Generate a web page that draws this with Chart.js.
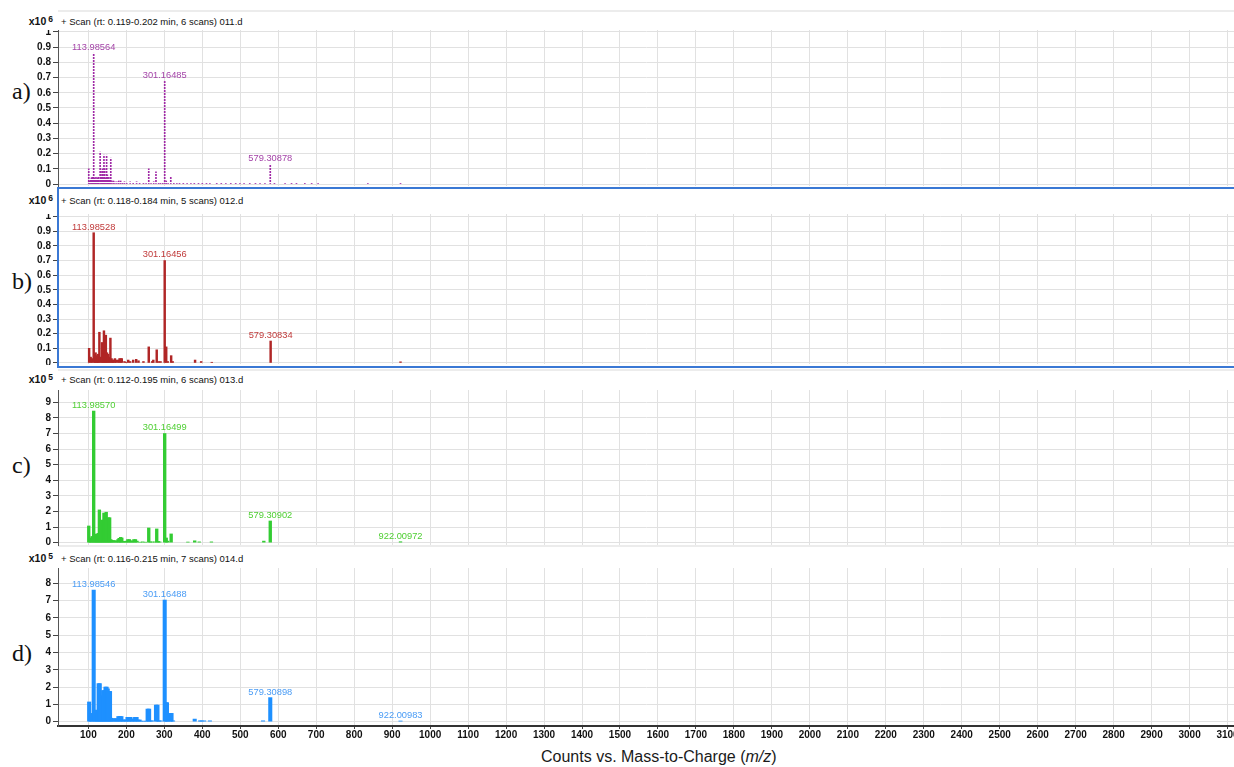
<!DOCTYPE html>
<html>
<head>
<meta charset="utf-8">
<script src="https://cdn.jsdelivr.net/npm/chart.js@4.4.1/dist/chart.umd.min.js"></script>
<style>
  body { margin: 0; width: 1234px; height: 767px; background: #fff; overflow: hidden; position: relative; font-family: "Liberation Sans", Arial, sans-serif; }
  canvas { position: absolute; left: 0; }
  .sep { position: absolute; left: 58px; right: 0; height: 2px; background: #ececec; }
  .hdr { position: absolute; height: 14px; line-height: 14px; font-size: 9.5px; color: #111; white-space: nowrap; }
  .mult { position: absolute; width: 53px; left: 0; text-align: right; height: 14px; line-height: 14px; font-size: 10.5px; font-weight: bold; color: #111; }
  .mult sup { font-size: 8.5px; vertical-align: 3px; line-height: 0; margin-left: 2px; }
  .tag { position: absolute; left: 12px; font-family: "Liberation Serif", "Times New Roman", serif; font-size: 24px; line-height: 24px; color: #111; }
  #selbox { position: absolute; left: 57px; top: 187px; width: 1180px; height: 177px; border: 2px solid #3a78d4; pointer-events: none; }
  #xtitle { position: absolute; left: 541px; top: 747px; font-size: 16px; line-height: 20px; color: #1a1a1a; }
</style>
</head>
<body>

<div class="sep" style="top:10px"></div>
<div class="sep" style="top:369px"></div>
<div class="sep" style="top:545px"></div>

<div class="mult" style="top:14px">x10<sup>6</sup></div>
<div class="hdr" style="left:61px;top:15px">+ Scan (rt: 0.119-0.202 min, 6 scans) 011.d</div>
<div class="mult" style="top:193px">x10<sup>6</sup></div>
<div class="hdr" style="left:61px;top:194px">+ Scan (rt: 0.118-0.184 min, 5 scans) 012.d</div>
<div class="mult" style="top:372px">x10<sup>5</sup></div>
<div class="hdr" style="left:61px;top:373px">+ Scan (rt: 0.112-0.195 min, 6 scans) 013.d</div>
<div class="mult" style="top:551px">x10<sup>5</sup></div>
<div class="hdr" style="left:61px;top:552px">+ Scan (rt: 0.116-0.215 min, 7 scans) 014.d</div>

<div class="tag" style="top:79px">a)</div>
<div class="tag" style="top:269px">b)</div>
<div class="tag" style="top:453px">c)</div>
<div class="tag" style="top:641px">d)</div>

<canvas id="chartA" width="1234" height="157" style="top:30px"></canvas>
<canvas id="chartB" width="1234" height="151" style="top:214px"></canvas>
<canvas id="chartC" width="1234" height="156" style="top:390px"></canvas>
<canvas id="chartD" width="1234" height="177" style="top:568px"></canvas>

<div id="selbox"></div>
<div id="xtitle">Counts vs. Mass-to-Charge (<i>m/z</i>)</div>

<script>
// x axis (m/z)
const mzMin = 20;
const mzMax = 3117;
const mzTicks = [100, 200, 300, 400, 500, 600, 700, 800, 900, 1000, 1100, 1200, 1300, 1400, 1500, 1600, 1700, 1800, 1900, 2000, 2100, 2200, 2300, 2400, 2500, 2600, 2700, 2800, 2900, 3000, 3100];
const ticks6 = [0, 0.1, 0.2, 0.3, 0.4, 0.5, 0.6, 0.7, 0.8, 0.9, 1];
const ticksC = [0, 1, 2, 3, 4, 5, 6, 7, 8, 9];
const ticksD = [0, 1, 2, 3, 4, 5, 6, 7, 8];

// a) 011.d, counts x10^6
const mzA = [101, 103, 106, 108, 110, 112, 114, 116, 118, 120, 122, 124, 126, 128, 131, 133, 135, 137, 139, 141, 143, 145, 148, 150, 152, 154, 156, 159, 162, 166, 170, 175, 180, 185, 190, 195, 201, 210, 218, 227, 235, 245, 252, 259, 265, 272, 278, 285, 290, 296, 301, 305, 310, 317, 325, 333, 340, 350, 360, 370, 379, 390, 400, 411, 420, 438, 450, 462, 475, 488, 499, 510, 525, 540, 552, 565, 579, 590, 618, 635, 648, 670, 688, 705, 836, 922];
const intA = [0.10, 0.02, 0.03, 0.04, 0.05, 0.03, 0.86, 0.04, 0.03, 0.05, 0.03, 0.04, 0.05, 0.03, 0.21, 0.09, 0.05, 0.10, 0.04, 0.19, 0.10, 0.04, 0.19, 0.06, 0.03, 0.05, 0.03, 0.17, 0.02, 0.02, 0.015, 0.015, 0.02, 0.02, 0.01, 0.015, 0.01, 0.015, 0.01, 0.015, 0.01, 0.01, 0.01, 0.10, 0.01, 0.015, 0.08, 0.01, 0.01, 0.01, 0.675, 0.02, 0.01, 0.05, 0.005, 0.005, 0.005, 0.005, 0.005, 0.005, 0.01, 0.005, 0.005, 0.005, 0.005, 0.005, 0.005, 0.005, 0.005, 0.005, 0.005, 0.005, 0.005, 0.005, 0.005, 0.005, 0.13, 0.005, 0.01, 0.005, 0.01, 0.005, 0.01, 0.005, 0.005, 0.008];
const peaksA = [[114, '113.98564'], [301, '301.16485'], [579, '579.30878']];

// b) 012.d, counts x10^6
const mzB = [102, 106, 109, 114, 117, 119, 122, 124, 126, 129, 132, 136, 138, 141, 144, 146, 149, 152, 155, 158, 161, 164, 166, 170, 173, 178, 182, 185, 188, 195, 199, 205, 210, 218, 226, 232, 245, 259, 268, 271, 280, 285, 290, 301, 305, 309, 318, 322, 381, 397, 425, 580, 922];
const intB = [0.10, 0.04, 0.03, 0.89, 0.06, 0.07, 0.05, 0.03, 0.06, 0.21, 0.04, 0.14, 0.06, 0.22, 0.08, 0.19, 0.07, 0.06, 0.04, 0.17, 0.03, 0.02, 0.02, 0.03, 0.02, 0.02, 0.03, 0.03, 0.03, 0.01, 0.005, 0.02, 0.01, 0.02, 0.025, 0.015, 0.01, 0.11, 0.01, 0.02, 0.09, 0.01, 0.01, 0.70, 0.11, 0.01, 0.05, 0.01, 0.02, 0.01, 0.005, 0.15, 0.008];
const peaksB = [[114, '113.98528'], [301, '301.16456'], [580, '579.30834']];

// c) 013.d, counts x10^5
const mzC = [101, 104, 107, 110, 114, 117, 120, 123, 126, 129, 132, 135, 138, 141, 144, 147, 150, 153, 156, 159, 162, 166, 170, 174, 178, 181, 185, 188, 192, 196, 200, 204, 208, 212, 216, 220, 224, 228, 236, 243, 250, 259, 263, 268, 275, 280, 284, 288, 301, 305, 309, 318, 362, 380, 392, 424, 562, 579, 922];
const intC = [1.07, 0.3, 0.17, 0.4, 8.44, 0.5, 0.55, 0.5, 0.6, 2.1, 1.3, 1.45, 1.2, 1.9, 1.5, 1.95, 1.4, 1.6, 1.6, 0.2, 0.15, 0.13, 0.13, 0.1, 0.2, 0.28, 0.34, 0.3, 0.08, 0.08, 0.1, 0.2, 0.2, 0.12, 0.1, 0.2, 0.2, 0.1, 0.03, 0.05, 0.03, 0.94, 0.05, 0.05, 0.05, 0.88, 0.08, 0.05, 7.0, 0.3, 0.1, 0.56, 0.04, 0.12, 0.05, 0.05, 0.1, 1.39, 0.06];
const peaksC = [[114, '113.98570'], [301, '301.16499'], [579, '579.30902'], [922, '922.00972']];

// d) 014.d, counts x10^5
const mzD = [102, 105, 109, 114, 117, 121, 124, 127, 130, 133, 136, 139, 142, 145, 148, 151, 154, 157, 160, 164, 168, 172, 176, 179, 183, 187, 191, 195, 199, 203, 207, 211, 215, 219, 223, 227, 231, 235, 240, 246, 252, 256, 260, 264, 268, 278, 282, 286, 290, 301, 304, 307, 310, 316, 319, 323, 380, 394, 398, 405, 420, 560, 579, 922];
const intD = [1.14, 0.3, 0.48, 7.6, 0.6, 0.67, 0.5, 2.2, 2.2, 1.5, 1.4, 1.8, 1.8, 2.0, 2.0, 1.9, 1.75, 1.75, 0.2, 0.17, 0.17, 0.17, 0.17, 0.3, 0.3, 0.3, 0.1, 0.1, 0.1, 0.25, 0.25, 0.25, 0.15, 0.15, 0.25, 0.25, 0.1, 0.1, 0.03, 0.03, 0.03, 0.73, 0.73, 0.05, 0.05, 0.96, 0.96, 0.05, 0.05, 7.03, 1.1, 1.1, 0.1, 0.48, 0.48, 0.05, 0.15, 0.05, 0.05, 0.05, 0.05, 0.05, 1.39, 0.04];
const peaksD = [[114, '113.98546'], [301, '301.16488'], [579, '579.30898'], [922, '922.00983']];

const FONT = '"Liberation Sans", Arial, sans-serif';

// draws the m/z annotation just above each labelled peak
const peakLabels = {
    id: 'peakLabels',
    afterDatasetsDraw(chart, args, opts) {
        if (!opts.items) return;
        const { ctx, scales: { x, y } } = chart;
        const pts = chart.data.datasets[0].data;
        ctx.save();
        ctx.font = '9.3px ' + FONT;
        ctx.fillStyle = opts.color;
        ctx.textAlign = 'center';
        ctx.textBaseline = 'bottom';
        opts.items.forEach(([mz, text]) => {
            const p = pts.find(d => d.x === mz);
            ctx.fillText(text, x.getPixelForValue(mz), y.getPixelForValue(p.y) - 1);
        });
        ctx.restore();
    }
};

function dotPattern(color) {
    const c = document.createElement('canvas');
    c.width = 1;
    c.height = 3;
    const g = c.getContext('2d');
    g.fillStyle = color;
    g.fillRect(0, 0, 1, 2);
    return g.createPattern(c, 'repeat');
}

function makeChart(id, mz, inten, cfg) {
    const points = mz.map((m, i) => ({ x: m, y: inten[i] }));
    return new Chart(document.getElementById(id), {
        type: 'bar',
        data: {
            datasets: [{
                data: points,
                backgroundColor: cfg.fill,
                barThickness: cfg.thick,
                grouped: false,
                borderWidth: 0
            }]
        },
        options: {
            responsive: false,
            animation: false,
            plugins: {
                legend: { display: false },
                tooltip: { enabled: false },
                peakLabels: { items: cfg.peaks, color: cfg.labelColor }
            },
            scales: {
                x: {
                    type: 'linear',
                    min: mzMin,
                    max: mzMax,
                    offset: false,
                    afterBuildTicks: s => { s.ticks = mzTicks.map(v => ({ value: v })); },
                    afterFit: s => { s.height = cfg.xHeight; s.paddingLeft = 0; s.paddingRight = 0; },
                    ticks: {
                        display: cfg.xLabels,
                        autoSkip: false,
                        maxRotation: 0,
                        padding: 0,
                        color: '#111',
                        font: { family: FONT, size: 10, weight: 'bold' },
                        callback: v => String(v)
                    },
                    grid: { offset: false, color: '#e1e1e1', tickColor: '#444', tickLength: 3, drawTicks: cfg.xLabels },
                    border: { display: cfg.xLabels, color: '#333', width: 2 }
                },
                y: {
                    min: cfg.yMin,
                    max: cfg.yMax,
                    afterBuildTicks: s => { s.ticks = cfg.yTicks.map(v => ({ value: v })); },
                    afterFit: s => { s.width = 58; s.paddingTop = 0; s.paddingBottom = 0; },
                    ticks: {
                        autoSkip: false,
                        padding: 2,
                        color: '#111',
                        font: { family: FONT, size: 10, weight: 'bold' },
                        callback: v => String(v)
                    },
                    grid: { color: '#e1e1e1', tickColor: '#444', tickLength: 5 },
                    border: { color: '#555' }
                }
            }
        },
        plugins: [peakLabels]
    });
}

makeChart('chartA', mzA, intA, {
    fill: dotPattern('#a02aa6'), thick: 1, peaks: peaksA, labelColor: '#a444a8',
    yMin: -0.013, yMax: 1.013, yTicks: ticks6, xLabels: false, xHeight: 1
});
makeChart('chartB', mzB, intB, {
    fill: '#b02626', thick: 1.8, peaks: peaksB, labelColor: '#c03a3a',
    yMin: -0.007, yMax: 1.018, yTicks: ticks6, xLabels: false, xHeight: 1
});
makeChart('chartC', mzC, intC, {
    fill: '#33cc33', thick: 2.7, peaks: peaksC, labelColor: '#4fcf33',
    yMin: -0.15, yMax: 9.79, yTicks: ticksC, xLabels: false, xHeight: 1
});
makeChart('chartD', mzD, intD, {
    fill: '#1e90ff', thick: 3.4, peaks: peaksD, labelColor: '#4a9cf5',
    yMin: -0.25, yMax: 8.88, yTicks: ticksD, xLabels: true, xHeight: 19
});
</script>
</body>
</html>
